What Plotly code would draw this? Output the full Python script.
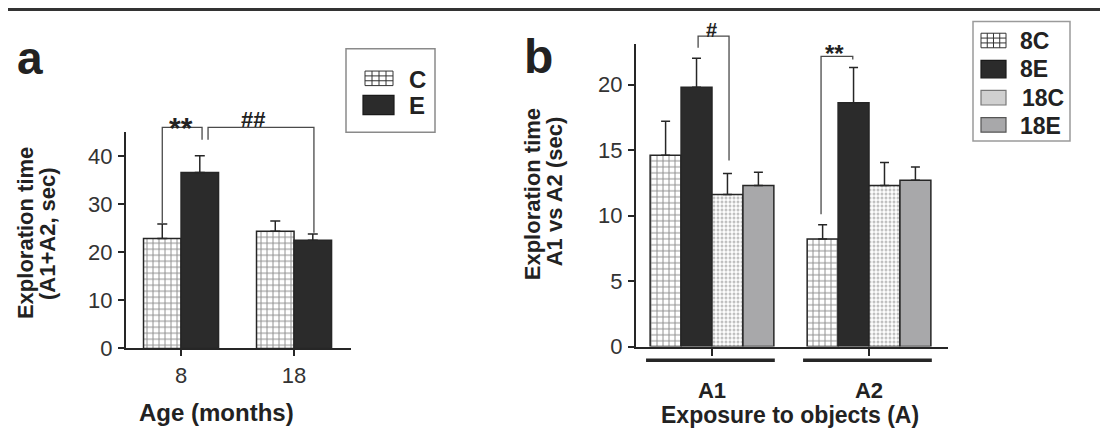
import plotly.graph_objects as go

W, H = 1108, 434

# ---------------- data ----------------
# Panel a: total exploration time (A1+A2, sec) by age
age_groups = ["8", "18"]
a_control = [22.9, 24.4]
a_control_err = [3.0, 2.1]
a_enriched = [36.6, 22.5]
a_enriched_err = [3.5, 1.3]
a_yticks = [0, 10, 20, 30, 40]

# Panel b: exploration time, A1 vs A2 (sec)
objects = ["A1", "A2"]
b_8c = [14.6, 8.2]
b_8c_err = [2.6, 1.1]
b_8e = [19.8, 18.6]
b_8e_err = [2.2, 2.7]
b_18c = [11.6, 12.3]
b_18c_err = [1.6, 1.75]
b_18e = [12.3, 12.7]
b_18e_err = [1.0, 1.0]
b_yticks = [0, 5, 10, 15, 20]

# ---------------- style ----------------
DARK = "#262626"
FONT = "Liberation Sans, Arial, sans-serif"
TXT = "#222222"
BLACKFILL = "#2b2b2b"
GRAYFILL = "#a8a8aa"

# layout geometry (pixels)
A_X0, A_X1, A_YB, A_YT = 118, 343, 351, 128
A_XR, A_YR = [-0.487, 1.504], [0, 45]
B_X0, B_X1, B_YB, B_YT = 628, 940, 349, 37
B_XR, B_YR = [-0.484, 1.503], [0, 23.1]

WA = 0.332
WB = 0.197


def px(x):
    return x / W


def py(y):
    return 1 - y / H


def a_pix(xd, yd):
    x = A_X0 + (xd - A_XR[0]) / (A_XR[1] - A_XR[0]) * (A_X1 - A_X0)
    y = A_YB - (yd - A_YR[0]) / (A_YR[1] - A_YR[0]) * (A_YB - A_YT)
    return x, y


def b_pix(xd, yd):
    x = B_X0 + (xd - B_XR[0]) / (B_XR[1] - B_XR[0]) * (B_X1 - B_X0)
    y = B_YB - (yd - B_YR[0]) / (B_YR[1] - B_YR[0]) * (B_YB - B_YT)
    return x, y


def center(i, off, w):
    return i + off + w / 2


grid_pat = dict(shape="+", size=6, solidity=0.3, fgcolor="#1e1e1e", fillmode="overlay")
dot_pat = dict(shape=".", size=4, solidity=0.45, fgcolor="#808080", fillmode="overlay")


def bar(x, y, err, name, fill, pattern, offset, width, xa, ya, errw):
    mk = dict(color=fill, line=dict(color=DARK, width=1.5))
    if pattern:
        mk["pattern"] = pattern
    return go.Bar(
        x=x, y=y, name=name, xaxis=xa, yaxis=ya, offset=offset, width=width,
        marker=mk, showlegend=False, cliponaxis=False,
        error_y=dict(type="data", array=err, arrayminus=[0] * len(err), symmetric=False,
                     color=DARK, thickness=1.5, width=errw),
    )


fig = go.Figure()
fig.add_trace(bar(age_groups, a_control, a_control_err, "C", "white", grid_pat, -WA, WA, "x", "y", 5))
fig.add_trace(bar(age_groups, a_enriched, a_enriched_err, "E", BLACKFILL, None, 0, WA, "x", "y", 5))
fig.add_trace(bar(objects, b_8c, b_8c_err, "8C", "white", grid_pat, -2 * WB, WB, "x2", "y2", 4.5))
fig.add_trace(bar(objects, b_8e, b_8e_err, "8E", BLACKFILL, None, -WB, WB, "x2", "y2", 4.5))
fig.add_trace(bar(objects, b_18c, b_18c_err, "18C", "white", dot_pat, 0, WB, "x2", "y2", 4.5))
fig.add_trace(bar(objects, b_18e, b_18e_err, "18E", GRAYFILL, None, WB, WB, "x2", "y2", 4.5))

axis_common = dict(showline=True, linecolor=DARK, linewidth=2, ticks="outside", tickwidth=2,
                   tickcolor=DARK, showgrid=False, zeroline=False, fixedrange=True)

shapes = []
annotations = []


def line_path(points, color="#4a4a4a", width=1.3):
    d = "M" + " L".join(f"{px(x):.5f},{py(y):.5f}" for x, y in points)
    shapes.append(dict(type="path", path=d, xref="paper", yref="paper",
                       line=dict(color=color, width=width)))


def text(x, y, s, size, bold=False, angle=0, xanchor="center", color=TXT):
    if bold:
        s = f"<b>{s}</b>"
    annotations.append(dict(x=px(x), y=py(y), xref="paper", yref="paper", text=s, showarrow=False,
                            xanchor=xanchor, yanchor="middle", textangle=angle,
                            font=dict(family=FONT, size=size, color=color)))


# top border rule
shapes.append(dict(type="line", xref="paper", yref="paper", x0=0, x1=1, y0=py(1.5), y1=py(1.5),
                   line=dict(color="#333333", width=3)))

# ---- panel a significance brackets ----
xc8 = center(0, -WA, WA)
xe8 = center(0, 0, WA) + 0.02
line_path([a_pix(xc8, a_control[0] + a_control_err[0] + 0.2), a_pix(xc8, 46.0),
           a_pix(xe8, 46.0), a_pix(xe8, 43.4)])
xl = 0.239
xe18 = center(1, 0, WA) + 0.01
line_path([a_pix(xl, 43.4), a_pix(xl, 46.0), a_pix(xe18, 46.0),
           a_pix(xe18, a_enriched[1] + a_enriched_err[1] + 0.25)])
tx, ty = a_pix(0.0, 0)
text(tx, 123, "**", 30, bold=True)
tx, ty = a_pix(0.637, 0)
text(tx, 115, "##", 22, bold=True)

# ---- panel b significance brackets ----
xl = center(0, -WB, WB) + 0.01
xr = center(0, 0, WB) + 0.01
line_path([b_pix(xl, 22.8), b_pix(xl, 23.7), b_pix(xr, 23.7),
           b_pix(xr, b_18c[0] + b_18c_err[0] + 1.0)])
tx, ty = b_pix(0.0, 0)
text(tx, 23, "#", 20, bold=True)
xl = center(1, -2 * WB, WB) - 0.01
xr = center(1, -WB, WB) - 0.005
line_path([b_pix(xl, b_8c[1] + b_8c_err[1] + 0.8), b_pix(xl, 22.15), b_pix(xr, 22.15),
           b_pix(xr, 21.9)])
tx, ty = b_pix(0.783, 0)
text(tx, 47, "**", 24, bold=True)

# group underlines in panel b
for i in range(len(objects)):
    x0, _ = b_pix(i - 0.42, 0)
    x1, _ = b_pix(i + 0.40, 0)
    shapes.append(dict(type="line", xref="paper", yref="paper", x0=px(x0), x1=px(x1),
                       y0=py(363), y1=py(363), line=dict(color=DARK, width=3.5)))

# panel letters
text(22, 52, "a", 46, bold=True)
text(530, 50, "b", 48, bold=True)

# axis titles
text(17, 232, "Exploration time", 22, bold=True, angle=-90)
text(39, 233, "(A1+A2, sec)", 22, bold=True, angle=-90)
text(208, 417, "Age (months)", 24, bold=True)
text(524, 192, "Exploration time", 22, bold=True, angle=-90)
text(546, 189, "A1 vs A2 (sec)", 22, bold=True, angle=-90)
text(782, 420, "Exposure to objects (A)", 23, bold=True)


# ---- custom legends ----
def grid_swatch(x0, y0, x1, y1, ncol=4, nrow=3):
    shapes.append(dict(type="rect", xref="paper", yref="paper", x0=px(x0), x1=px(x1), y0=py(y1), y1=py(y0),
                       fillcolor="white", line=dict(color="#333333", width=1)))
    segs = []
    for k in range(1, ncol):
        xx = x0 + (x1 - x0) * k / ncol
        segs.append(f"M{px(xx):.5f},{py(y0):.5f} L{px(xx):.5f},{py(y1):.5f}")
    for k in range(1, nrow):
        yy = y0 + (y1 - y0) * k / nrow
        segs.append(f"M{px(x0):.5f},{py(yy):.5f} L{px(x1):.5f},{py(yy):.5f}")
    shapes.append(dict(type="path", path=" ".join(segs), xref="paper", yref="paper",
                       line=dict(color="#333333", width=1)))


def solid_swatch(x0, y0, x1, y1, fill, border):
    shapes.append(dict(type="rect", xref="paper", yref="paper", x0=px(x0), x1=px(x1), y0=py(y1), y1=py(y0),
                       fillcolor=fill, line=dict(color=border, width=1.2)))


# legend a
shapes.append(dict(type="rect", xref="paper", yref="paper", x0=px(338), x1=px(427), y0=py(128), y1=py(42),
                   line=dict(color="#8a8a8a", width=1.5)))
grid_swatch(357, 65, 385, 80)
solid_swatch(355, 90, 386, 110, BLACKFILL, "#1a1a1a")
text(399, 74, "C", 24, bold=True, xanchor="left")
text(399, 101, "E", 24, bold=True, xanchor="left")

# legend b
shapes.append(dict(type="rect", xref="paper", yref="paper", x0=px(965), x1=px(1062), y0=py(137), y1=py(14),
                   line=dict(color="#9a9a9a", width=1.5)))
grid_swatch(973, 26, 998, 41)
solid_swatch(973, 54, 998, 72, BLACKFILL, "#1a1a1a")
solid_swatch(973, 85, 998, 100, "#d0d0d0", "#777777")
solid_swatch(973, 113, 998, 128, GRAYFILL, "#555555")
text(1010, 34, "8C", 23, bold=True, xanchor="left")
text(1010, 63, "8E", 23, bold=True, xanchor="left")
text(1012, 93, "18C", 23, bold=True, xanchor="left")
text(1010, 122, "18E", 23, bold=True, xanchor="left")

tick_font = dict(size=22, color="#333333", family=FONT)

fig.update_layout(
    width=W, height=H,
    margin=dict(l=0, r=0, t=0, b=0),
    paper_bgcolor="white", plot_bgcolor="rgba(0,0,0,0)",
    barmode="overlay",
    font=dict(family=FONT, color=TXT),
    showlegend=False,
    xaxis=dict(domain=[px(A_X0), px(A_X1)], anchor="y", type="category", range=A_XR,
               ticklen=6, tickfont=tick_font, ticklabelstandoff=0, **axis_common),
    yaxis=dict(domain=[py(A_YB), py(A_YT)], anchor="x", range=A_YR, tickvals=a_yticks,
               ticklen=6, tickfont=tick_font, ticklabelstandoff=1, **axis_common),
    xaxis2=dict(domain=[px(B_X0), px(B_X1)], anchor="y2", type="category", range=B_XR,
                ticklen=7, tickfont=dict(size=22, color=TXT, family=FONT, weight="bold"),
                ticklabelstandoff=16, **axis_common),
    yaxis2=dict(domain=[py(B_YB), py(B_YT)], anchor="x2", range=B_YR, tickvals=b_yticks,
                ticklen=6, tickfont=tick_font, ticklabelstandoff=1, **axis_common),
    shapes=shapes,
    annotations=annotations,
)

fig.write_html("out.html")
